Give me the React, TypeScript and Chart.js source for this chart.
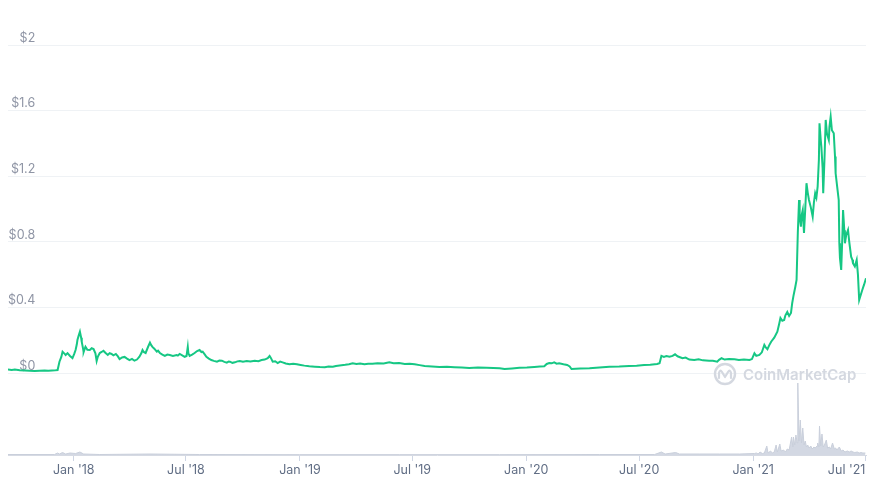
import React, { useEffect, useRef } from "react";
import { Chart, registerables } from "chart.js";

Chart.register(...registerables);

// days since 2018-01-01
const priceDays = [
  -106, -100, -95, -87, -79, -71, -63, -55, -47, -41,
  -35, -30, -26, -23, -20, -18, -15, -13, -10, -6,
  -2, 1, 3, 5, 6, 8, 10, 12, 13, 15,
  16, 18, 19, 22, 26, 29, 32, 35, 37, 39,
  42, 45, 48, 51, 55, 58, 61, 64, 68, 71,
  74, 78, 82, 86, 90, 94, 98, 102, 106, 109,
  111, 113, 116, 120, 123, 125, 127, 130, 134, 136,
  139, 143, 147, 151, 155, 160, 166, 168, 171, 175,
  179, 182, 184, 185, 187, 191, 195, 199, 203, 206,
  208, 211, 214, 218, 222, 226, 231, 235, 239, 243,
  247, 250, 252, 256, 260, 264, 268, 273, 279, 285,
  292, 298, 303, 308, 313, 316, 318, 321, 325, 329,
  333, 337, 342, 348, 354, 360, 366, 372, 380, 389,
  397, 405, 411, 418, 423, 429, 438, 444, 450, 456,
  462, 469, 475, 482, 490, 500, 509, 516, 525, 534,
  542, 550, 558, 566, 578, 590, 602, 614, 626, 638,
  652, 666, 677, 687, 695, 707, 719, 731, 743, 752,
  759, 763, 767, 771, 775, 779, 783, 790, 796, 800,
  803, 817, 832, 848, 864, 880, 896, 908, 920, 930,
  941, 945, 948, 952, 956, 961, 966, 970, 974, 978,
  982, 987, 993, 1001, 1008, 1015, 1025, 1031, 1038, 1041,
  1045, 1050, 1057, 1066, 1073, 1081, 1090, 1094, 1098, 1101,
  1106, 1110, 1114, 1116, 1119, 1122, 1125, 1130, 1135, 1138,
  1140, 1143, 1146, 1148, 1151, 1154, 1157, 1159, 1161, 1164,
  1166, 1168, 1170, 1171, 1173, 1174, 1176, 1177, 1178, 1180,
  1182, 1184, 1186, 1189, 1192, 1194, 1196, 1198, 1200, 1202,
  1203, 1205, 1206, 1208, 1209, 1211, 1213, 1215, 1218, 1219,
  1221, 1223, 1226, 1228, 1229, 1232, 1234, 1235, 1236, 1238,
  1240, 1241, 1243, 1244, 1246, 1249, 1251, 1254, 1256, 1257,
  1260, 1263, 1265, 1267, 1269, 1272, 1275, 1278,
];

// USD
const priceValues = [
  0.021, 0.019, 0.021, 0.017, 0.015, 0.013, 0.012, 0.014, 0.015, 0.013,
  0.015, 0.016, 0.018, 0.069, 0.098, 0.13, 0.118, 0.11, 0.121, 0.104,
  0.091, 0.118, 0.14, 0.175, 0.201, 0.228, 0.252, 0.215, 0.189, 0.15,
  0.128, 0.15, 0.16, 0.142, 0.14, 0.151, 0.146, 0.12, 0.073, 0.1,
  0.122, 0.128, 0.136, 0.124, 0.11, 0.121, 0.116, 0.108, 0.116, 0.103,
  0.085, 0.095, 0.098, 0.088, 0.079, 0.086, 0.075, 0.082, 0.099, 0.12,
  0.14, 0.128, 0.122, 0.16, 0.185, 0.17, 0.159, 0.148, 0.13, 0.136,
  0.122, 0.112, 0.104, 0.112, 0.11, 0.104, 0.11, 0.106, 0.116, 0.108,
  0.099, 0.104, 0.159, 0.12, 0.104, 0.112, 0.122, 0.134, 0.14, 0.128,
  0.13, 0.115, 0.099, 0.088, 0.079, 0.074, 0.069, 0.076, 0.075, 0.068,
  0.063, 0.07, 0.069, 0.062, 0.065, 0.071, 0.073, 0.069, 0.073, 0.07,
  0.075, 0.072, 0.079, 0.082, 0.09, 0.104, 0.092, 0.069, 0.072, 0.061,
  0.07, 0.065, 0.058, 0.053, 0.057, 0.053, 0.049, 0.045, 0.041, 0.038,
  0.036, 0.035, 0.039, 0.038, 0.043, 0.046, 0.05, 0.054, 0.059, 0.055,
  0.058, 0.053, 0.056, 0.057, 0.06, 0.058, 0.065, 0.059, 0.061, 0.055,
  0.057, 0.053, 0.048, 0.043, 0.04, 0.037, 0.038, 0.035, 0.033, 0.03,
  0.034, 0.032, 0.031, 0.029, 0.024, 0.028, 0.032, 0.033, 0.037, 0.039,
  0.041, 0.055, 0.061, 0.059, 0.065, 0.057, 0.059, 0.053, 0.049, 0.04,
  0.024, 0.027, 0.029, 0.033, 0.038, 0.039, 0.043, 0.044, 0.049, 0.05,
  0.055, 0.06, 0.104, 0.098, 0.103, 0.099, 0.104, 0.114, 0.102, 0.096,
  0.09, 0.094, 0.082, 0.079, 0.084, 0.077, 0.075, 0.074, 0.069, 0.08,
  0.09, 0.082, 0.086, 0.084, 0.08, 0.083, 0.079, 0.085, 0.12, 0.104,
  0.11, 0.126, 0.171, 0.158, 0.145, 0.17, 0.191, 0.215, 0.252, 0.3,
  0.335, 0.318, 0.323, 0.352, 0.372, 0.348, 0.366, 0.427, 0.47, 0.526,
  0.567, 0.854, 1.055, 0.95, 0.892, 0.96, 0.994, 0.92, 0.854, 1.0,
  1.157, 1.1, 1.055, 1.01, 0.953, 1.04, 1.096, 1.07, 1.136, 1.3,
  1.523, 1.42, 1.38, 1.25, 1.096, 1.3, 1.543, 1.46, 1.421, 1.5,
  1.563, 1.48, 1.462, 1.32, 1.218, 1.12, 1.055, 0.791, 0.7, 0.628,
  0.85, 0.994, 0.87, 0.791, 0.84, 0.872, 0.8, 0.709, 0.69, 0.669,
  0.65, 0.689, 0.6, 0.445, 0.47, 0.506, 0.54, 0.577,
];

// volume, USD millions
const volumeDays = [
  -106, -31, -26, -23, -18, -13, -6, 3, 10, 16, 42, 123, 203, 364, 526, 687, 848, 937, 948, 954,
  971, 977, 1009, 1042, 1074, 1098, 1101, 1104, 1107, 1111, 1114, 1118, 1120, 1124, 1127, 1130, 1133, 1135, 1139, 1141,
  1145, 1148, 1151, 1154, 1158, 1160, 1161, 1163, 1165, 1167, 1168, 1170, 1172, 1174, 1176, 1178, 1180, 1182, 1184, 1186,
  1189, 1191, 1194, 1196, 1199, 1200, 1202, 1203, 1205, 1207, 1209, 1211, 1214, 1216, 1219, 1221, 1224, 1227, 1229, 1231,
  1235, 1238, 1241, 1244, 1248, 1251, 1254, 1257, 1260, 1264, 1267, 1270, 1273, 1277,
];

const volumeValues = [
  6, 6, 24, 12, 30, 12, 24, 18, 36, 12, 6, 12, 6, 4, 4, 4, 6, 6, 36, 12,
  30, 12, 12, 12, 12, 18, 24, 12, 36, 18, 24, 108, 24, 48, 24, 36, 120, 36, 132, 48,
  60, 36, 72, 60, 216, 96, 216, 120, 240, 144, 864, 168, 420, 144, 324, 120, 168, 96, 120, 84,
  108, 72, 96, 84, 108, 144, 96, 348, 108, 252, 96, 120, 180, 84, 96, 72, 144, 72, 84, 60,
  96, 48, 60, 36, 48, 36, 48, 36, 30, 36, 24, 30, 24, 24,
];

const tickDays = [-106, 0, 181, 365, 546, 730, 912, 1096, 1277];
const tickLabels = ["", "Jan '18", "Jul '18", "Jan '19", "Jul '19", "Jan '20", "Jul '20", "Jan '21", "Jul '21"];
const priceTicks = [0, 0.4, 0.8, 1.2, 1.6, 2];

export default function App() {
  const ref = useRef<HTMLCanvasElement>(null);

  useEffect(() => {
    document.body.style.margin = "0";
    const ctx = ref.current!.getContext("2d")!;
    const priceData = priceDays.map((d, i) => ({ x: d, y: priceValues[i] }));
    const volData = volumeDays.map((d, i) => ({ x: d, y: volumeValues[i] }));

    const chart = new Chart(ctx, {
      type: "line",
      data: {
        datasets: [
          {
            label: "Price",
            data: priceData,
            yAxisID: "y",
            borderColor: "#16c784",
            borderWidth: 2,
            pointRadius: 0,
            tension: 0,
            fill: false,
            order: 1,
          },
          {
            label: "Volume",
            data: volData,
            yAxisID: "yv",
            borderColor: "#c9cfdb",
            backgroundColor: "#d3d8e3",
            borderWidth: 1,
            pointRadius: 0,
            tension: 0,
            fill: "origin",
            order: 2,
          },
        ],
      },
      options: {
        animation: false,
        responsive: true,
        maintainAspectRatio: false,
        layout: { padding: { top: 45, left: 8, right: 4, bottom: 0 } },
        plugins: { legend: { display: false }, tooltip: { enabled: false } },
        scales: {
          x: {
            type: "linear",
            min: -106,
            max: 1278,
            afterBuildTicks: (scale: any) => {
              scale.ticks = tickDays.map((v) => ({ value: v }));
            },
            afterFit: (scale: any) => {
              scale.height = 29;
              scale.paddingLeft = 0;
              scale.paddingRight = 0;
            },
            grid: {
              display: true,
              drawOnChartArea: false,
              drawTicks: true,
              tickLength: 6,
              color: (c: any) => (c.index === 0 ? "rgba(0,0,0,0)" : "#cfd6e4"),
            },
            border: { display: true, color: "#d6dae3" },
            ticks: {
              autoSkip: false,
              maxRotation: 0,
              align: "inner",
              padding: 2,
              color: "#616e85",
              font: { family: "Inter", size: 12.5 },
              callback: (v: any) => {
                const i = tickDays.indexOf(Number(v));
                return i >= 0 ? tickLabels[i] : "";
              },
            },
          },
          y: {
            position: "left",
            min: -0.5,
            max: 2,
            afterBuildTicks: (scale: any) => {
              scale.ticks = priceTicks.map((v) => ({ value: v }));
            },
            afterFit: (scale: any) => {
              scale.width = 0;
            },
            grid: { color: "#eff2f5", drawTicks: false, lineWidth: 1 },
            border: { display: false },
            ticks: {
              mirror: true,
              crossAlign: "far",
              padding: 0,
              labelOffset: -7,
              color: "#8f95a5",
              font: { family: "Inter", size: 12.5 },
              callback: (v: any) => "$" + Number(v).toString(),
            },
          },
          yv: {
            display: false,
            min: 0,
            max: 4920,
          },
        },
      },
    });
    return () => chart.destroy();
  }, []);

  return (
    <div style={{ position: "fixed", left: 0, top: 0, width: 870, height: 484, background: "#fff" }}>
      <canvas ref={ref} />
      <div
        style={{
          position: "absolute",
          left: 713,
          top: 362,
          height: 24,
          display: "flex",
          alignItems: "center",
          gap: 6,
          pointerEvents: "none",
          color: "#d4d8e0",
          fontFamily: "Inter, sans-serif",
          fontWeight: 600,
          fontSize: 15,
        }}
      >
        <svg width="24" height="24" viewBox="-12 -12 24 24">
          <circle cx="0" cy="0" r="10" fill="none" stroke="#d4d8e0" strokeWidth="2.4" />
          <path
            d="M -6 4 L -6 -1 Q -5 -5 -3 -2 L 0 3 L 3 -2 Q 5 -5 6 -1 L 6 4"
            fill="none"
            stroke="#d4d8e0"
            strokeWidth="2.2"
            strokeLinejoin="round"
            strokeLinecap="round"
          />
        </svg>
        <span>CoinMarketCap</span>
      </div>
    </div>
  );
}
